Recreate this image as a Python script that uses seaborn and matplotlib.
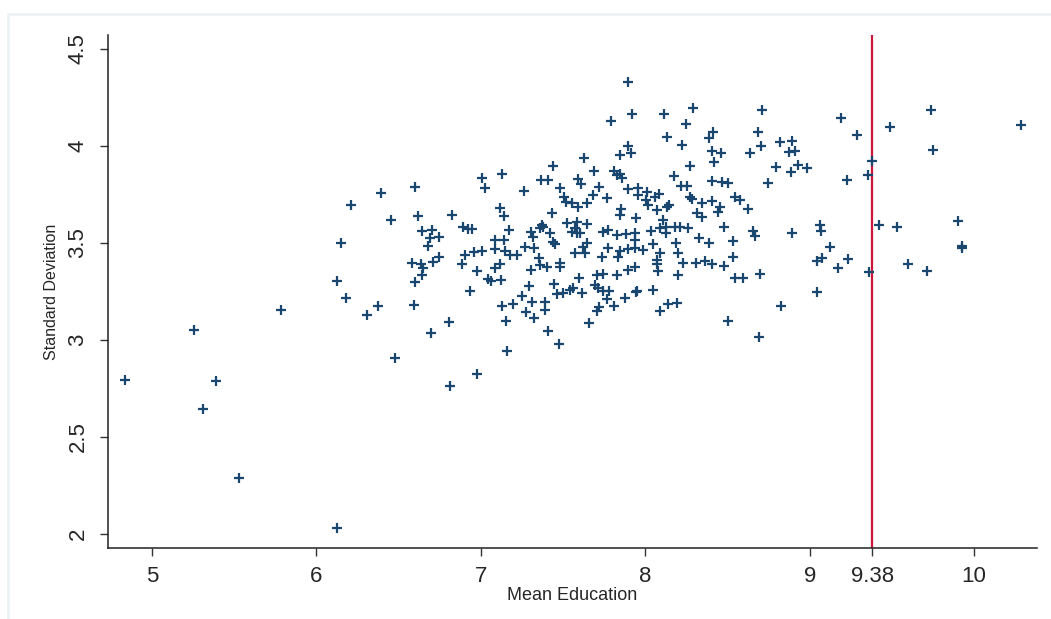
# Mean education vs standard deviation scatter, with a reference line at 9.38

import matplotlib
matplotlib.use('Agg')
import matplotlib.pyplot as plt
import seaborn as sns
import pandas as pd
from matplotlib.patches import Rectangle

# Data
mean_edu = [
    4.833, 5.257, 5.310, 5.387, 5.526, 5.787, 6.122, 6.126, 6.150, 6.179,
    6.211, 6.306, 6.377, 6.393, 6.452, 6.476, 6.600, 6.620, 6.584, 6.596,
    6.600, 6.636, 6.650, 6.640, 6.640, 6.701, 6.691, 6.748, 6.679, 6.744,
    6.707, 6.697, 6.809, 6.813, 6.823, 6.894, 6.924, 6.944, 6.904, 6.888,
    6.934, 6.959, 6.979, 6.975, 7.010, 7.005, 7.028, 7.127, 7.114, 7.139,
    7.170, 7.086, 7.141, 7.086, 7.147, 7.178, 7.218, 7.086, 7.117, 7.046,
    7.060, 7.121, 7.127, 7.151, 7.157, 7.198, 7.263, 7.303, 7.319, 7.269,
    7.326, 7.303, 7.290, 7.253, 7.313, 7.273, 7.324, 7.366, 7.411, 7.360,
    7.376, 7.370, 7.355, 7.360, 7.401, 7.391, 7.391, 7.411, 7.441, 7.431,
    7.421, 7.441, 7.451, 7.447, 7.465, 7.476, 7.482, 7.506, 7.518, 7.557,
    7.593, 7.644, 7.526, 7.583, 7.644, 7.573, 7.583, 7.553, 7.603, 7.644,
    7.623, 7.573, 7.634, 7.480, 7.480, 7.502, 7.543, 7.563, 7.614, 7.598,
    7.589, 7.609, 7.628, 7.659, 7.684, 7.689, 7.719, 7.765, 7.745, 7.776,
    7.776, 7.735, 7.705, 7.741, 7.695, 7.715, 7.741, 7.780, 7.765, 7.721,
    7.705, 7.790, 7.810, 7.810, 7.827, 7.836, 7.827, 7.847, 7.857, 7.830,
    7.847, 7.847, 7.853, 7.847, 7.877, 7.883, 7.897, 7.897, 7.897, 7.897,
    7.897, 7.912, 7.918, 7.938, 7.938, 7.938, 7.938, 7.944, 7.944, 7.948,
    7.954, 7.954, 7.988, 8.005, 8.013, 8.019, 8.036, 8.049, 8.049, 8.060,
    8.070, 8.070, 8.074, 8.080, 8.084, 8.090, 8.090, 8.090, 8.110, 8.116,
    8.126, 8.126, 8.131, 8.131, 8.147, 8.137, 8.177, 8.181, 8.185, 8.197,
    8.200, 8.195, 8.212, 8.218, 8.226, 8.227, 8.246, 8.252, 8.262, 8.273,
    8.273, 8.283, 8.293, 8.309, 8.314, 8.326, 8.344, 8.347, 8.364, 8.388,
    8.387, 8.404, 8.404, 8.404, 8.404, 8.414, 8.420, 8.441, 8.455, 8.461,
    8.465, 8.481, 8.481, 8.505, 8.505, 8.536, 8.536, 8.546, 8.577, 8.546,
    8.597, 8.624, 8.637, 8.657, 8.668, 8.684, 8.692, 8.698, 8.702, 8.709,
    8.747, 8.796, 8.820, 8.826, 8.875, 8.887, 8.891, 8.891, 8.911, 8.927,
    8.982, 9.047, 9.047, 9.063, 9.069, 9.073, 9.124, 9.175, 9.191, 9.229,
    9.231, 9.286, 9.357, 9.361, 9.381, 9.424, 9.489, 9.530, 9.601, 9.716,
    9.736, 9.752, 9.905, 9.925, 9.925, 10.284,
]
std_dev = [
    2.791, 3.051, 2.646, 2.789, 2.291, 3.152, 2.030, 3.305, 3.498, 3.215,
    3.695, 3.128, 3.176, 3.757, 3.617, 2.906, 3.787, 3.639, 3.394, 3.179,
    3.296, 3.390, 3.368, 3.334, 3.560, 3.565, 3.526, 3.528, 3.483, 3.428,
    3.399, 3.037, 3.093, 2.762, 3.644, 3.579, 3.569, 3.569, 3.437, 3.389,
    3.251, 3.454, 3.354, 2.822, 3.456, 3.835, 3.783, 3.854, 3.681, 3.638,
    3.567, 3.514, 3.515, 3.468, 3.457, 3.437, 3.437, 3.368, 3.389, 3.313,
    3.303, 3.308, 3.174, 3.099, 2.944, 3.186, 3.766, 3.557, 3.531, 3.480,
    3.474, 3.359, 3.277, 3.226, 3.193, 3.145, 3.114, 3.823, 3.823, 3.574,
    3.582, 3.591, 3.420, 3.385, 3.376, 3.193, 3.153, 3.045, 3.896, 3.651,
    3.551, 3.505, 3.492, 3.287, 3.236, 2.978, 3.780, 3.737, 3.711, 3.703,
    3.686, 3.703, 3.603, 3.608, 3.595, 3.574, 3.548, 3.553, 3.548, 3.500,
    3.480, 3.449, 3.445, 3.394, 3.376, 3.239, 3.256, 3.265, 3.239, 3.317,
    3.826, 3.801, 3.935, 3.088, 3.746, 3.869, 3.788, 3.732, 3.557, 3.565,
    3.474, 3.428, 3.334, 3.337, 3.282, 3.265, 3.253, 3.253, 3.209, 3.167,
    3.150, 4.127, 3.869, 3.176, 3.540, 3.425, 3.334, 3.852, 3.832, 3.849,
    3.953, 3.459, 3.672, 3.643, 3.214, 3.545, 4.329, 3.998, 3.775, 3.466,
    3.359, 3.960, 4.163, 3.548, 3.514, 3.471, 3.376, 3.626, 3.248, 3.253,
    3.780, 3.746, 3.462, 3.720, 3.763, 3.694, 3.560, 3.492, 3.256, 3.734,
    3.668, 3.411, 3.389, 3.356, 3.751, 3.574, 3.449, 3.150, 3.617, 4.163,
    3.582, 3.548, 4.046, 3.686, 3.694, 3.184, 3.843, 3.582, 3.500, 3.334,
    3.449, 3.188, 3.582, 3.792, 4.002, 3.394, 4.110, 3.792, 3.574, 3.896,
    3.734, 3.724, 4.192, 3.397, 3.651, 3.526, 3.706, 3.634, 3.407, 4.038,
    3.500, 3.974, 3.820, 3.716, 3.389, 4.072, 3.917, 3.660, 3.686, 3.960,
    3.814, 3.579, 3.382, 3.806, 3.099, 3.510, 3.428, 3.737, 3.720, 3.317,
    3.320, 3.674, 3.960, 3.562, 3.535, 4.072, 3.016, 3.339, 3.998, 4.183,
    3.809, 3.891, 4.017, 3.176, 3.966, 3.866, 4.024, 3.552, 3.974, 3.900,
    3.886, 3.406, 3.248, 3.591, 3.560, 3.420, 3.480, 3.371, 4.141, 3.823,
    3.415, 4.055, 3.849, 3.351, 3.922, 3.591, 4.094, 3.582, 3.390, 3.354,
    4.183, 3.977, 3.613, 3.483, 3.471, 4.106,
]

x_ticks = [5, 6, 7, 8, 9, 9.38, 10]
x_tick_labels = ['5', '6', '7', '8', '9', '9.38', '10']
y_ticks = [2, 2.5, 3, 3.5, 4, 4.5]
y_tick_labels = ['2', '2.5', '3', '3.5', '4', '4.5']
cutoff = 9.38

df = pd.DataFrame({'Mean Education': mean_edu, 'Standard Deviation': std_dev})

sns.set_style('ticks')
plt.rcParams['font.family'] = ['Liberation Sans', 'DejaVu Sans']

fig = plt.figure(figsize=(10.51, 6.19), dpi=100)
ax = fig.add_axes([108 / 1051, 1 - 548 / 619, (1037 - 108) / 1051, (548 - 35) / 619])

# Stata-like faint graph region outline
fig.patches.append(Rectangle((8 / 1051, -0.1), 1.2, 1.1 - 14 / 619,
                             transform=fig.transFigure, fill=False,
                             edgecolor='#edf3f5', linewidth=2))

sns.scatterplot(data=df, x='Mean Education', y='Standard Deviation', ax=ax,
                marker='+', s=45, linewidth=1.6, color='#1a476f', zorder=3)

ax.axvline(cutoff, color='#c8163c', linewidth=1.6, zorder=2)

ax.set_xlim(4.732, 10.383)
ax.set_ylim(1.928, 4.570)

ax.set_xticks(x_ticks)
ax.set_xticklabels(x_tick_labels, fontsize=16)
ax.set_yticks(y_ticks)
ax.set_yticklabels(y_tick_labels, fontsize=16, rotation=90, va='center')

ax.tick_params(axis='both', length=6, width=1, color='#333333')
ax.tick_params(axis='x', pad=7)
ax.tick_params(axis='y', pad=8)

for side in ['top', 'right']:
    ax.spines[side].set_visible(False)
for side in ['left', 'bottom']:
    ax.spines[side].set_linewidth(1.1)
    ax.spines[side].set_color('#222222')

ax.set_xlabel('Mean Education', fontsize=13, labelpad=0)
ax.set_ylabel('Standard Deviation', fontsize=11.5)
ax.yaxis.set_label_coords(-0.053, 0.5)

fig.savefig('out.png', dpi=100)
